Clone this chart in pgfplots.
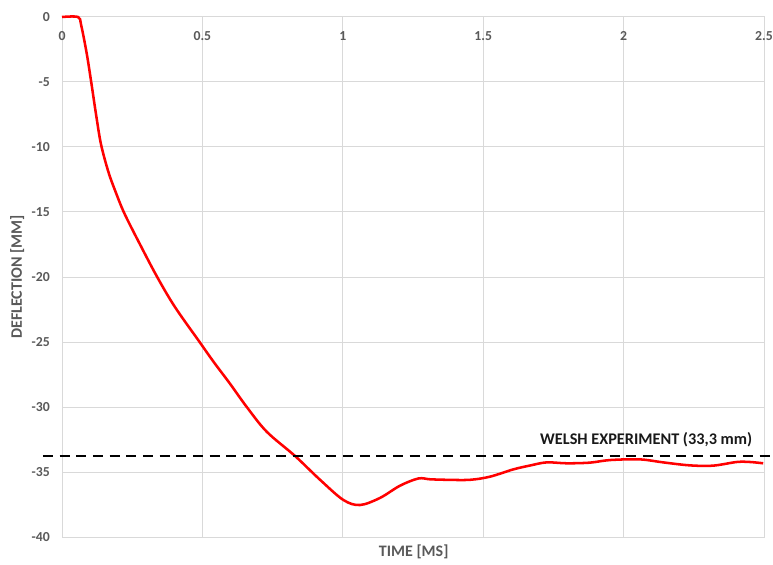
\documentclass[border=0pt]{standalone}
\usepackage{fontspec}
\setmainfont{Carlito}
\usepackage{pgfplots}
\pgfplotsset{compat=1.18}
\definecolor{tickgray}{RGB}{89,89,89}
\definecolor{gridgray}{RGB}{217,217,217}
\begin{document}
\begin{tikzpicture}
\begin{axis}[
  at={(0,0)}, anchor=south west,
  scale only axis,
  width=526.5pt, height=390pt,
  xmin=0, xmax=2.5, ymin=-40, ymax=0,
  xtick={0,0.5,1,1.5,2,2.5},
  xticklabels={0,0.5,1,1.5,2,2.5},
  ytick={-40,-35,-30,-25,-20,-15,-10,-5,0},
  yticklabels={-40,-35,-30,-25,-20,-15,-10,-5,0},
  /pgf/number format/assume math mode=true,
  grid=major,
  major grid style={gridgray, line width=0.75pt},
  axis line style={gridgray, line width=0.75pt},
  major tick length=0pt,
  xticklabel pos=upper,
  tick label style={font=\bfseries\fontsize{10.3}{12}\selectfont, text=tickgray},
  xticklabel style={anchor=center, yshift=-14.25pt},
  yticklabel style={anchor=east, inner sep=0pt, xshift=-9pt},
  xlabel={TIME [MS]},
  ylabel={DEFLECTION [MM]},
  every axis x label/.style={at={(axis description cs:0.501,-0.0288)}, anchor=center, font=\bfseries\fontsize{12}{14}\selectfont, text=tickgray},
  every axis y label/.style={at={(axis description cs:-0.0637,0.5)}, anchor=center, rotate=90, font=\bfseries\fontsize{12}{14}\selectfont, text=tickgray},
  clip=false,
]
\addplot[red, line width=1.9pt, smooth, tension=0.55] coordinates {
(0,0) (0.057,0) (0.068,-0.6) (0.088,-2.8) (0.104,-5) (0.122,-7.6) (0.139,-9.8)
(0.165,-11.9) (0.19,-13.4) (0.222,-15.1) (0.278,-17.5) (0.339,-20) (0.402,-22.3) (0.49,-25)
(0.539,-26.5) (0.598,-28.2) (0.658,-30) (0.729,-31.9) (0.83,-33.77) (0.919,-35.6)
(1.002,-37.15) (1.061,-37.54) (1.132,-37.0) (1.204,-36.05) (1.269,-35.5) (1.31,-35.56)
(1.37,-35.6) (1.453,-35.6) (1.524,-35.36) (1.607,-34.8) (1.667,-34.5) (1.726,-34.26)
(1.797,-34.33) (1.88,-34.28) (1.952,-34.08) (2.058,-34.03) (2.141,-34.26) (2.236,-34.49)
(2.319,-34.51) (2.403,-34.23) (2.45,-34.23) (2.497,-34.33)
};
\addplot[black, line width=1.9pt, dash pattern=on 7.5pt off 5pt] coordinates {(-0.068,-33.77) (2.521,-33.77)};
\node[anchor=west, inner sep=0pt, font=\bfseries\fontsize{12.2}{14}\selectfont, text=black!90] at (axis cs:1.702,-32.54) {WELSH EXPERIMENT (33,3 mm)};
\end{axis}
\pgfresetboundingbox
\useasboundingbox (-46.5pt,-20.25pt) rectangle (533.25pt,402.75pt);
\end{tikzpicture}
\end{document}
